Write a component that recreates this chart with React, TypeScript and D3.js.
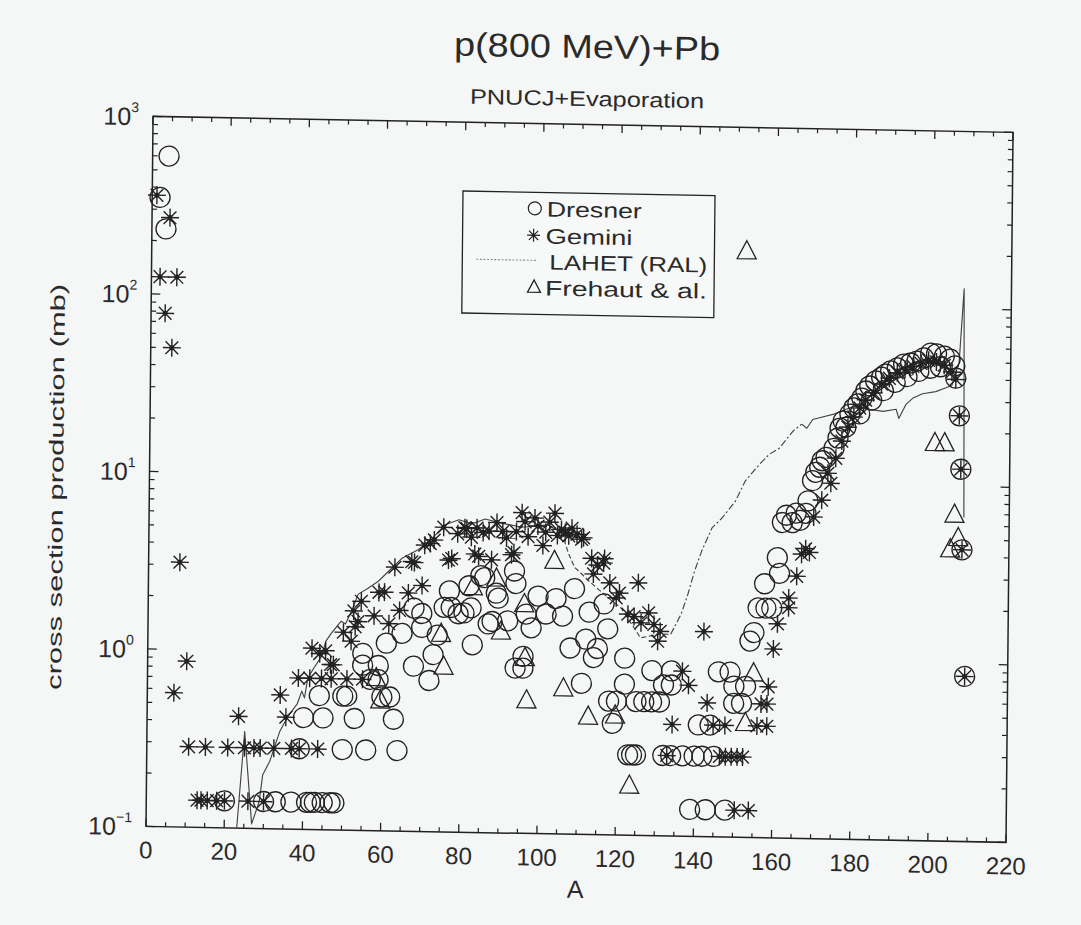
import React from "react";
import * as d3 from "d3";

// ---------------- DATA ----------------
const titleText = "p(800 MeV)+Pb";
const subtitleText = "PNUCJ+Evaporation";
const xLabelText = "A";
const yLabelText = "cross section production (mb)";
const legendLabels = ["Dresner", "Gemini", "LAHET (RAL)", "Frehaut & al."];

const xMajorTicks = [0, 20, 40, 60, 80, 100, 120, 140, 160, 180, 200, 220];
const xMinorStep = 5;
const yDecades = [-1, 0, 1, 2, 3];

// [A, cross section (mb)]
const dresner: [number, number][] = [
  [2, 350], [3.6, 233], [4.2, 600],
  [20, 0.142], [30, 0.142], [33, 0.142], [37, 0.142], [41, 0.142], [42, 0.142], [43, 0.142], [45, 0.142], [47, 0.142], [48, 0.142], [139, 0.142], [143, 0.142], [148, 0.142],
  [39, 0.284], [50, 0.284], [56, 0.284], [64, 0.284], [123, 0.284], [124, 0.284], [125, 0.284], [132, 0.284], [134, 0.284], [137, 0.284], [140, 0.284], [142, 0.284], [145, 0.284],
  [40, 0.426], [45, 0.426], [53, 0.426], [63, 0.426], [119, 0.426], [141, 0.426], [144, 0.426],
  [44, 0.568], [50, 0.568], [51, 0.568], [60, 0.568], [62, 0.568], [118, 0.568], [120, 0.568], [125, 0.568], [127, 0.568], [129, 0.568], [131, 0.568], [150, 0.568], [152, 0.568],
  [57, 0.71], [59, 0.71], [72, 0.71], [111, 0.71], [122, 0.71], [132, 0.71], [134, 0.71], [150, 0.71], [153, 0.71],
  [55, 0.852], [59, 0.852], [68, 0.852], [94, 0.852], [96, 0.852], [129, 0.852], [134, 0.852], [146, 0.852], [149, 0.852], [209, 0.852],
  [55, 0.994], [73, 0.994], [96, 0.994], [114, 0.994], [122, 0.994],
  [61, 1.14], [83, 1.14], [108, 1.12], [115, 1.12],
  [65, 1.3], [74, 1.28], [112, 1.26], [154, 1.28],
  [70, 1.41], [98, 1.44], [117.6, 1.45], [155, 1.43],
  [68, 1.81], [70, 1.69], [75.7, 1.84], [77, 2.28], [77.5, 1.84], [79.3, 1.7], [80.8, 1.72], [82, 2.45], [82.6, 1.84], [85, 2.8], [86, 2.73], [87, 1.5], [88, 1.55], [89, 2.24], [89.5, 2.1], [92, 1.57], [93.6, 3.0], [94, 2.55], [96.7, 1.72], [99.7, 2.18], [101.8, 1.73], [104.3, 2.12], [106, 1.69], [109, 2.42], [112.8, 1.79], [116.6, 2.0],
  [156, 1.97], [157.6, 2.7], [158, 1.97], [159.5, 1.97], [160.8, 3.8], [161.4, 3.1],
  [162, 6.0], [163, 6.6], [164.5, 6.0], [165.5, 6.8], [166.5, 6.2], [168, 6.8], [168.5, 8.0], [169.6, 10.4], [170.4, 11.6], [171.4, 12.4], [172, 13.5], [173, 14.1], [175, 15.9], [176, 18.2], [176.5, 20.7], [177.3, 22.7], [179, 24.9], [180, 27], [181, 28.5], [182, 30.7], [183, 33.7], [184, 36], [185.5, 38.5], [187, 40.5], [188, 42.2], [189.3, 44], [191, 45.8], [192.6, 48.2], [194.4, 49], [196, 50.3], [197.7, 52.5], [199.5, 56], [201, 55.5], [203, 54], [204.5, 52], [205.7, 47.7], [206, 40.7],
  [178, 21], [181.5, 25], [184.5, 30], [187.5, 34], [190.5, 38], [193.5, 41], [196.5, 44], [199.5, 46], [202, 47],
  [207, 25], [207.5, 12.5], [208, 4.4],
];

const gemini: [number, number][] = [
  [1.2, 360], [4.6, 270], [2.2, 125], [6.5, 125], [3.6, 78], [5.4, 50], [8.0, 3.1], [10, 0.86], [6.8, 0.57],
  [13, 0.142], [14, 0.142], [15.6, 0.142], [18, 0.142], [20, 0.142], [26, 0.142], [30, 0.142], [150.4, 0.142], [154, 0.142],
  [10.7, 0.284], [15, 0.284], [20.7, 0.284], [25, 0.284], [27.4, 0.284], [29, 0.284], [32.5, 0.284], [37, 0.284], [39, 0.284], [43.7, 0.284], [133, 0.284], [146.5, 0.284], [148, 0.284], [149.5, 0.284], [151, 0.284], [152.4, 0.284],
  [23.4, 0.426], [35.5, 0.426], [134.3, 0.426], [144.8, 0.426], [147.8, 0.426], [156, 0.426], [158.5, 0.426],
  [34, 0.568], [143.2, 0.568], [157, 0.568], [158.5, 0.568],
  [38.6, 0.71], [41.5, 0.71], [44.5, 0.71], [47, 0.71], [51, 0.71], [55, 0.71], [138.4, 0.71], [158.8, 0.71],
  [46.8, 0.852], [47.5, 0.852], [136.8, 0.852], [209, 0.852],
  [42, 1.05], [44, 0.98], [45.5, 1.02], [50, 1.3], [52, 1.16], [52.6, 1.72], [53, 1.4], [53.7, 1.5], [54.5, 1.95], [57.8, 1.62], [59, 2.2], [60.4, 2.21], [61.6, 1.47], [63, 3.06], [64.3, 1.75], [66.5, 2.2], [67.3, 3.3], [68, 3.27], [70, 2.43], [70.6, 4.1], [72, 4.2], [73, 4.4], [75.4, 5.2], [76.7, 3.4], [77.5, 3.47], [79, 4.8], [80.8, 5.2], [81.3, 5.15], [82.5, 4.6], [83.4, 3.7], [83.9, 5.2], [84.4, 3.6], [85.5, 4.9], [87, 5.0], [87.7, 3.45], [89, 5.6], [90.5, 5.0], [91.5, 4.6], [92.8, 3.7], [93.4, 3.8], [94, 5.0], [95.4, 6.4], [96.2, 5.7], [97, 4.7], [98.7, 6.0], [99.5, 5.4], [100.8, 4.2], [101.5, 5.0], [102.5, 5.7], [103.8, 6.4], [104.5, 4.8], [105.5, 5.2], [106.5, 5.0], [107.4, 4.8], [108.2, 5.3], [109.5, 4.9], [110.7, 4.6], [111.2, 4.7], [113.3, 3.6], [113.8, 2.94], [114.8, 3.3], [116.4, 3.4], [116.6, 3.6], [118, 2.63], [119.7, 2.17], [120.5, 2.31], [122.7, 1.76], [124.3, 1.71], [125.3, 2.65], [126.1, 1.58], [128, 1.8], [129.4, 1.55], [130.4, 1.25], [131, 1.42], [142.2, 1.43],
  [160, 1.16], [161, 1.61], [163.8, 2.26], [163.8, 1.99], [165.8, 3.0], [167, 4.0], [168, 4.3], [169, 4.1], [170, 6.5], [172, 8.1], [173.5, 11.5], [174.3, 10.1],
  [175.5, 14], [177, 17.5], [178.5, 21], [180, 24], [181.5, 27], [183, 30], [185, 33], [187, 37], [189, 40], [191, 43], [193, 45], [195, 47], [197, 49], [199, 51], [201, 50], [203, 48], [205, 44], [206, 40],
  [207, 25], [207.5, 12.5], [208, 4.4],
];

const lahet: [number, number][] = [
  [23.2, 0.1], [25, 0.35], [27, 0.106], [28.9, 0.142], [29.7, 0.2], [31.5, 0.24], [34, 0.355], [36, 0.43], [38.4, 0.51], [39.5, 0.6], [40.2, 0.55], [41, 0.71], [42.5, 0.81], [44.5, 0.95], [45.5, 1.15], [46.8, 1.27], [49.4, 1.5], [50.5, 1.45], [52, 1.71], [53.7, 2.14], [56, 2.3], [58.8, 2.54], [61.4, 2.9], [64.7, 3.43], [69, 3.87], [72.4, 4.47], [75.7, 5.37], [79.3, 5.75], [82.6, 5.47], [86, 5.85], [89.5, 5.6], [95.4, 5.3], [102, 5.5], [105.6, 5.0], [107.4, 3.8], [109, 3.18], [110.7, 2.95], [112.5, 2.7], [117.6, 2.17], [121, 1.9], [124.3, 1.48], [126, 1.3], [131, 1.37], [133.7, 1.37], [136.3, 1.78], [138, 2.31], [139.6, 3.1], [141.4, 4.05], [144, 5.5], [146.5, 6.25], [149.9, 7.8], [152.4, 10.2], [156, 12.7], [158.5, 14.5], [161, 15.7], [164.5, 19.7], [166.7, 21.6], [168, 20.5], [169.5, 23], [171, 23.5], [174.9, 24.8], [180, 27.6], [182.6, 28.4], [184, 26.6], [187.5, 26], [190.8, 26.8], [191.5, 23.8], [193.3, 28.6], [195, 31], [197.5, 33], [200.9, 34], [203, 35.5], [205, 37], [206.8, 50], [207.9, 130], [208.4, 6.7],
];

const frehaut: [number, number][] = [
  [152.2, 200], [200.8, 17.4], [203.3, 17.4], [206, 6.9], [207, 5.1], [205, 4.4],
  [103.8, 3.44], [89, 2.7], [83, 2.4], [96.2, 1.95], [90.3, 1.36], [75, 1.3], [75.7, 0.85], [59.6, 0.54], [58.5, 0.72],
  [97, 0.56], [96.5, 0.97], [106.4, 0.66], [112.8, 0.46], [119.7, 0.47], [123.5, 0.19], [155, 0.84], [153, 0.44],
];

// stroke style of the printed LAHET curve along A
const lahetStyles = [
  { from: 0, to: 106, dash: "" },
  { from: 105.6, to: 134, dash: "5 2.5" },
  { from: 133.7, to: 167, dash: "7 2.5 2 2.5" },
  { from: 166.7, to: 220, dash: "" },
];

// ---------------- LAYOUT ----------------
const W = 1081;
const H = 925;
const PX0 = 146, PX1 = 1006, PY0 = 116.5, PY1 = 826.5;
// slight scan skew of the original page
const KX = 0.0099, KY = 0.0186;
const E = KX * 827, F = -KY * 153;
const MATRIX = `matrix(1 ${KY} ${-KX} 1 ${E} ${F})`;
const inv = (xs: number, ys: number): [number, number] => {
  const a = xs - E, b = ys - F, det = 1 + KX * KY;
  return [(a + KX * b) / det, (b - KY * a) / det];
};

const INK = "#222";
const FONT = "'Liberation Sans', Arial, Helvetica, sans-serif";

function Star({ cx, cy, r, sw = 1.4 }: { cx: number; cy: number; r: number; sw?: number }) {
  const d = r * Math.SQRT1_2;
  return (
    <g stroke={INK} strokeWidth={sw}>
      <line x1={cx - r} y1={cy} x2={cx + r} y2={cy} />
      <line x1={cx} y1={cy - r} x2={cx} y2={cy + r} />
      <line x1={cx - d} y1={cy - d} x2={cx + d} y2={cy + d} />
      <line x1={cx - d} y1={cy + d} x2={cx + d} y2={cy - d} />
      <circle cx={cx} cy={cy} r={r * 0.28} fill={INK} stroke="none" />
    </g>
  );
}

function Tri({ cx, cy, s }: { cx: number; cy: number; s: number }) {
  const h = s * 0.95;
  const pts = `${cx},${cy - h * 0.6} ${cx + s / 2},${cy + h * 0.4} ${cx - s / 2},${cy + h * 0.4}`;
  return <polygon points={pts} fill="none" stroke={INK} strokeWidth={1.3} />;
}

export default function App() {
  const x = d3.scaleLinear().domain([0, 220]).range([PX0, PX1]);
  const y = d3.scaleLog().domain([0.1, 1000]).range([PY1, PY0]);
  const line = d3.line<[number, number]>().x((d) => x(d[0])).y((d) => y(d[1]));

  const xMinor = d3.range(0, 220 + 0.001, xMinorStep).filter((v) => !xMajorTicks.includes(v));
  const yMinor: number[] = [];
  yDecades.slice(0, -1).forEach((dcd) => {
    for (let k = 2; k <= 9; k++) yMinor.push(k * Math.pow(10, dcd));
  });

  const [tX, tY] = inv(587, 58);
  const [sX, sY] = inv(587, 106);
  const [aX, aY] = inv(575, 898);
  const [ylX, ylY] = inv(63, 487);
  const [lgX, lgY] = inv(463, 191);
  const titleLen = 266, subLen = 234;

  const legendText = [
    { t: legendLabels[0], x: 84, y: 24, len: 95 },
    { t: legendLabels[1], x: 83, y: 51, len: 87 },
    { t: legendLabels[2], x: 87, y: 77, len: 158 },
    { t: legendLabels[3], x: 83, y: 103, len: 162 },
  ];

  return (
    <svg width={W} height={H} style={{ position: "absolute", left: 0, top: 0 }} fontFamily={FONT}>
      <rect x={0} y={0} width={W} height={H} fill="#f5f6f6" />
      <defs>
        <clipPath id="plotClip">
          <rect x={PX0} y={PY0} width={PX1 - PX0} height={PY1 - PY0} />
        </clipPath>
      </defs>
      <g transform={MATRIX}>
        {/* titles */}
        <text x={tX - titleLen / 2} y={tY} fontSize={33} fill="#2a2a2a" textLength={titleLen} lengthAdjust="spacingAndGlyphs">{titleText}</text>
        <text x={sX - subLen / 2} y={sY} fontSize={21} fill="#2a2a2a" textLength={subLen} lengthAdjust="spacingAndGlyphs">{subtitleText}</text>

        {/* frame */}
        <rect x={PX0} y={PY0} width={PX1 - PX0} height={PY1 - PY0} fill="none" stroke={INK} strokeWidth={1.5} />

        {/* x ticks */}
        {xMajorTicks.map((v) => (
          <g key={"xM" + v}>
            <line x1={x(v)} x2={x(v)} y1={PY1} y2={PY1 - 8} stroke={INK} strokeWidth={1.3} />
            <line x1={x(v)} x2={x(v)} y1={PY0} y2={PY0 + 8} stroke={INK} strokeWidth={1.3} />
            <text x={x(v)} y={PY1 + 32} fontSize={24} textAnchor="middle" fill="#2a2a2a">{v}</text>
          </g>
        ))}
        {xMinor.map((v) => (
          <g key={"xm" + v}>
            <line x1={x(v)} x2={x(v)} y1={PY1} y2={PY1 - 4.5} stroke={INK} strokeWidth={1.2} />
            <line x1={x(v)} x2={x(v)} y1={PY0} y2={PY0 + 4.5} stroke={INK} strokeWidth={1.2} />
          </g>
        ))}

        {/* y ticks */}
        {yDecades.map((dcd) => {
          const v = Math.pow(10, dcd);
          return (
            <g key={"yM" + dcd}>
              <line x1={PX0} x2={PX0 + 9} y1={y(v)} y2={y(v)} stroke={INK} strokeWidth={1.3} />
              <line x1={PX1} x2={PX1 - 9} y1={y(v)} y2={y(v)} stroke={INK} strokeWidth={1.3} />
              <text x={132} y={y(v) + 9} fontSize={25} textAnchor="end" fill="#2a2a2a">
                10<tspan dy={-13} fontSize={14}>{dcd < 0 ? "\u2212" + Math.abs(dcd) : String(dcd)}</tspan>
              </text>
            </g>
          );
        })}
        {yMinor.map((v, i) => (
          <g key={"ym" + i}>
            <line x1={PX0} x2={PX0 + 5} y1={y(v)} y2={y(v)} stroke={INK} strokeWidth={1.2} />
            <line x1={PX1} x2={PX1 - 5} y1={y(v)} y2={y(v)} stroke={INK} strokeWidth={1.2} />
          </g>
        ))}

        {/* axis labels */}
        <text x={aX} y={aY} fontSize={25} textAnchor="middle" fill="#2a2a2a">{xLabelText}</text>
        <text transform={`translate(${ylX},${ylY}) rotate(-90)`} x={-203} y={0} fontSize={20} fill="#2a2a2a" textLength={406} lengthAdjust="spacingAndGlyphs">{yLabelText}</text>

        {/* LAHET line */}
        <g clipPath="url(#plotClip)">
          {lahetStyles.map((s, i) => {
            const seg = lahet.filter((d) => d[0] >= s.from && d[0] <= s.to);
            return (
              <path key={"lh" + i} d={line(seg) || ""} fill="none" stroke="#444" strokeWidth={1.15}
                strokeLinejoin="round" strokeDasharray={s.dash || undefined} />
            );
          })}
        </g>

        {/* Dresner circles */}
        {dresner.map((d, i) => (
          <circle key={"dr" + i} cx={x(d[0])} cy={y(d[1])} r={10} fill="none" stroke={INK} strokeWidth={1.3} />
        ))}
        {/* Gemini stars */}
        {gemini.map((d, i) => (
          <Star key={"ge" + i} cx={x(d[0])} cy={y(d[1])} r={9} />
        ))}
        {/* Frehaut triangles */}
        {frehaut.map((d, i) => (
          <Tri key={"fr" + i} cx={x(d[0])} cy={y(d[1])} s={19} />
        ))}

        {/* legend */}
        <g transform={`translate(${lgX},${lgY})`}>
          <rect x={0} y={0} width={252} height={122} fill="#f7f8f8" stroke={INK} strokeWidth={1.3} />
          <circle cx={72} cy={16} r={6.5} fill="none" stroke={INK} strokeWidth={1.2} />
          <Star cx={71} cy={43} r={6.5} sw={1.2} />
          <line x1={14} x2={75} y1={68} y2={68} stroke="#8a8a8a" strokeWidth={1.1} strokeDasharray="2 1.6" />
          <Tri cx={72} cy={95} s={13} />
          {legendText.map((t) => (
            <text key={t.t} x={t.x} y={t.y} fontSize={21} fill="#2a2a2a" textLength={t.len} lengthAdjust="spacingAndGlyphs">{t.t}</text>
          ))}
        </g>
      </g>
    </svg>
  );
}
